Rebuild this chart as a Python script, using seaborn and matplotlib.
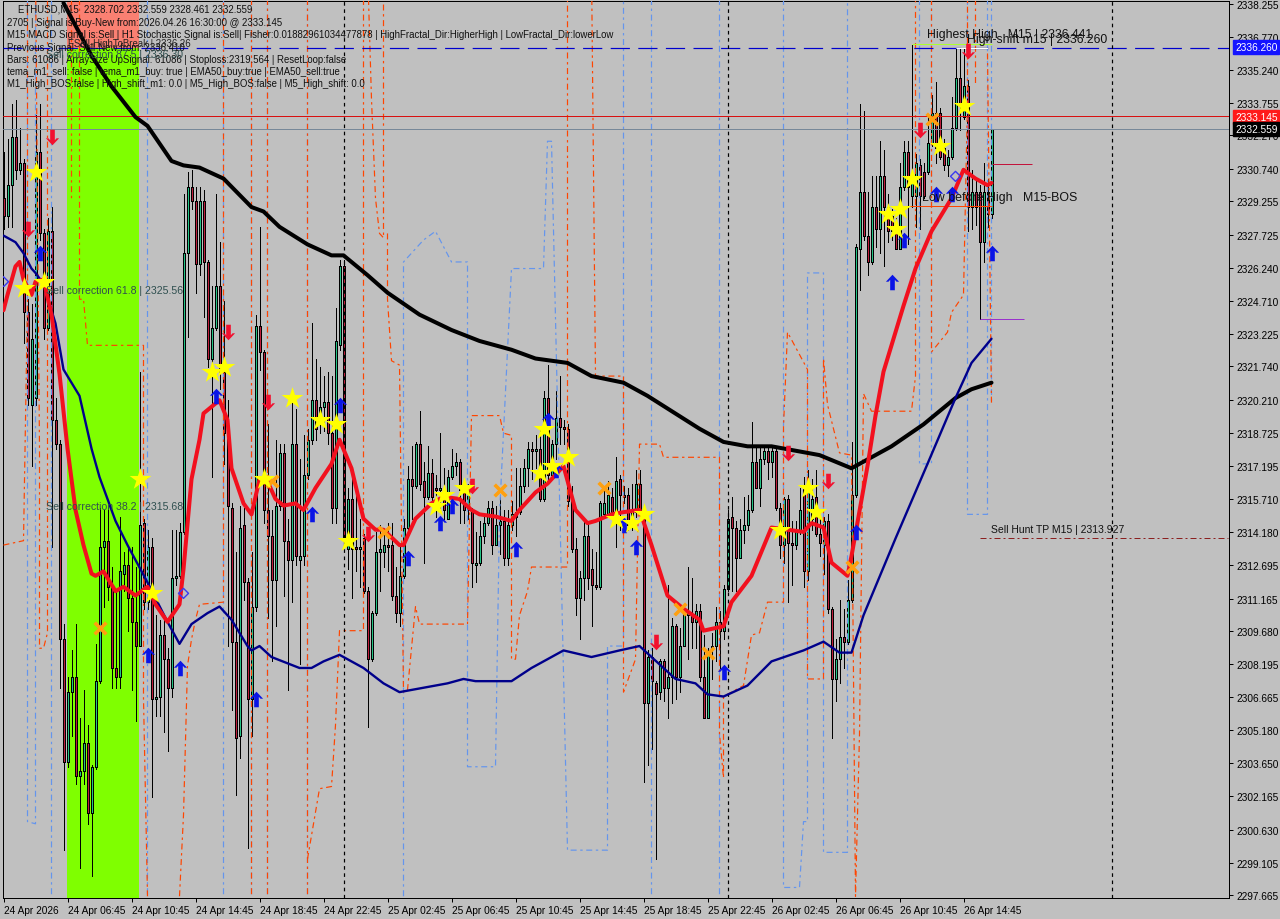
import numpy as np
import pandas as pd
import matplotlib
matplotlib.use("Agg")
import matplotlib.pyplot as plt
from matplotlib.path import Path
import seaborn as sns

BASE = 2300

# candles, price minus BASE, 15 minute bars
opens = [
    29.4,28.6,30.0,32.2,30.7,31.0,24.2,20.0,20.3,31.5, 27.8,23.5,27.9,19.3,18.2,9.3,3.7,6.9,7.6,3.1,
    3.3,4.6,1.4,3.5,7.4,13.5,13.8,11.7,8.0,7.6, 12.3,12.7,11.2,10.1,9.0,14.6,11.0,13.5,6.6,6.7,
    9.5,8.4,7.1,12.1,12.2,14.2,26.9,29.9,29.3,26.4, 29.3,26.5,22.1,23.5,25.4,21.5,18.7,15.3,9.2,4.9,
    14.5,11.9,6.6,10.8,23.6,22.4,15.2,14.0,12.0,15.4, 17.8,13.8,12.9,18.2,12.9,13.1,16.8,18.4,20.2,19.4,
    19.9,20.1,18.7,15.3,22.7,26.3,13.4,15.7,13.5,13.4, 13.9,11.5,8.4,10.5,13.3,13.3,13.6,13.6,11.3,10.5,
    12.2,14.4,16.6,16.3,18.2,16.5,15.8,16.9,16.2,16.1, 16.1,14.8,16.7,17.2,17.4,16.1,15.2,15.2,12.7,12.8,
    14.0,14.6,15.3,13.6,14.5,14.7,13.0,14.5,14.9,15.1, 16.3,17.1,18.0,17.9,18.0,15.7,20.3,16.8,18.2,19.4,
    19.0,18.9,15.6,13.4,11.2,12.1,14.0,12.5,11.8,11.7, 15.0,15.0,15.8,15.1,16.6,15.9,15.9,14.5,15.1,16.4,
    15.1,6.4,8.5,7.3,6.9,8.3,7.1,7.6,9.9,7.6, 9.0,10.4,10.4,10.1,10.6,7.6,5.7,8.9,9.0,10.1,
    9.7,11.6,14.9,14.4,13.0,14.3,14.5,15.2,17.4,16.2, 17.5,17.9,17.4,17.9,15.3,13.6,15.7,13.7,13.6,14.3,
    16.3,12.4,14.8,15.8,14.1,13.6,14.7,10.7,7.5,8.4, 9.4,9.2,11.1,15.9,27.1,29.7,27.7,26.5,29.0,28.0,
    30.4,29.0,28.6,28.1,27.1,29.9,31.5,29.5,29.5,30.9, 30.6,30.6,31.9,33.3,33.3,31.7,30.9,31.3,32.6,34.9,
    33.1,34.5,29.0,29.7,29.7,27.4,29.7,28.7,
]
closes = [
    28.6,30.0,32.2,30.7,31.0,24.2,20.3,23.0,31.5,27.8, 23.5,27.9,19.3,18.2,9.3,3.7,6.9,7.6,3.1,3.3,
    4.6,1.4,3.5,7.4,13.5,13.8,11.7,8.0,7.6,12.4, 12.7,11.2,10.1,9.0,14.5,11.0,13.5,6.6,6.7,9.5,
    8.4,7.1,12.1,12.2,14.2,26.9,29.9,29.3,26.4,29.3, 26.5,22.1,23.5,25.4,21.5,18.7,15.4,9.2,4.8,14.4,
    11.9,6.6,10.8,23.6,22.4,15.2,14.0,12.0,15.4,17.8, 13.8,12.9,18.2,13.1,13.1,16.8,18.4,20.2,18.9,19.9,
    20.1,18.7,15.3,22.9,26.3,13.8,15.7,13.4,13.4,13.5, 11.5,8.4,10.5,13.3,13.4,13.6,13.5,11.3,10.5,12.2,
    14.4,16.6,16.3,18.2,16.4,15.8,16.9,15.8,16.1,16.2, 15.2,16.7,17.2,17.4,16.1,15.2,16.2,12.8,12.8,14.0,
    14.6,15.3,13.6,14.5,14.7,13.0,14.5,15.0,15.1,16.3, 17.1,18.0,17.9,18.0,15.7,20.3,16.8,18.2,19.4,19.0,
    18.9,15.6,13.4,11.2,12.1,14.0,12.1,11.8,11.7,15.5, 15.5,15.9,15.1,16.5,15.9,15.8,14.5,15.2,16.4,15.1,
    6.4,8.5,7.4,6.8,8.3,7.1,7.6,9.9,7.6,9.0, 10.6,10.6,10.1,10.6,7.6,5.7,8.6,9.0,10.1,9.7,
    11.6,14.8,14.4,13.0,14.3,14.5,15.2,17.4,16.2,17.5, 17.9,17.4,17.9,15.3,13.6,15.7,13.7,13.6,14.3,15.2,
    12.4,16.3,15.7,14.1,13.7,14.7,10.7,7.5,8.4,9.4, 9.2,11.1,15.9,27.2,29.7,27.7,26.5,29.0,28.0,30.4,
    29.0,27.9,27.9,27.1,29.9,31.5,29.9,30.3,31.0,29.5, 29.5,31.9,33.3,31.7,31.3,30.9,31.3,32.6,34.9,33.6,
    34.5,29.0,29.7,29.0,27.4,29.7,28.7,32.559,
]
highs = [
    31.5,32.1,33.7,33.9,32.6,31.2,24.8,24.6,33.2,33.7, 28.0,28.5,29.0,20.3,18.4,10.0,7.6,8.8,10.0,5.7,
    7.0,5.4,3.6,9.1,15.3,15.2,15.3,12.6,11.5,14.9, 13.3,13.5,13.5,12.6,21.5,14.8,14.3,13.9,10.4,10.2,
    10.4,8.9,14.3,14.3,14.6,29.6,30.6,30.7,29.9,29.9, 29.8,26.6,25.4,29.6,27.4,24.7,20.2,15.5,13.3,15.4,
    15.3,12.1,13.3,24.1,28.1,22.5,19.1,15.2,18.4,18.2, 18.2,14.8,20.6,19.8,17.5,18.6,18.9,23.7,22.1,21.7,
    21.3,21.5,21.3,24.4,26.6,26.6,16.2,16.6,16.4,14.8, 14.1,11.7,10.6,14.2,14.5,14.3,14.6,14.6,12.6,13.6,
    14.8,17.2,18.1,18.3,19.7,17.4,18.1,17.5,16.8,18.7, 17.1,17.0,18.0,17.8,17.5,16.2,16.4,15.3,14.2,14.7,
    14.9,15.6,15.6,15.4,15.8,15.2,15.2,15.6,17.1,17.1, 17.5,18.3,18.3,18.6,18.9,20.6,21.8,18.4,20.6,21.3,
    19.3,19.1,16.3,13.9,12.4,14.7,14.7,13.4,13.3,15.6, 16.2,16.5,16.2,17.6,16.8,16.3,16.2,16.4,17.0,17.0,
    15.2,8.8,8.9,7.4,8.4,8.4,11.8,10.3,10.0,9.8, 10.7,12.6,12.1,10.9,10.9,9.5,8.9,9.6,10.8,10.6,
    11.8,15.2,15.8,14.7,14.8,15.8,15.9,19.2,18.1,18.1, 18.1,18.1,18.1,18.1,15.5,15.8,15.9,14.7,14.7,16.2,
    16.7,17.0,16.6,17.0,14.9,14.9,15.0,10.8,9.3,11.1, 10.7,12.0,18.3,27.3,33.7,33.4,29.7,30.4,30.4,32.0,
    31.6,29.6,28.9,28.5,31.0,32.0,32.0,36.4,31.4,31.2, 31.0,33.1,34.1,34.7,33.5,32.1,31.6,34.0,36.2,36.2,
    36.2,34.8,30.7,30.3,30.0,31.0,30.3,32.559,
]
lows = [
    28.0,28.1,28.1,30.3,30.5,22.8,20.0,17.2,20.0,27.5, 23.0,23.4,13.5,18.0,7.1,-0.3,3.5,4.9,2.7,-1.1,
    2.7,0.9,-1.5,3.4,7.3,10.8,11.1,7.1,7.1,7.1, 11.5,9.7,7.0,5.6,9.0,10.7,10.7,2.1,5.8,5.8,
    5.1,4.2,6.7,11.8,12.1,14.1,23.1,28.9,25.1,25.9, 24.0,21.7,16.7,23.4,20.7,17.3,9.0,6.1,2.2,3.9,
    11.1,-0.2,4.9,10.6,21.6,14.6,10.3,8.3,9.9,15.2, 11.3,7.0,11.0,12.7,8.2,12.7,16.6,18.2,18.4,18.7,
    18.8,18.2,14.6,14.6,22.5,13.6,12.5,11.2,12.4,11.7, 11.4,5.3,8.3,10.4,11.5,12.6,12.4,11.1,10.1,9.9,
    12.1,14.3,14.8,16.2,16.1,12.8,15.7,15.4,14.9,15.2, 14.8,14.8,16.6,16.8,14.6,14.6,14.8,11.7,11.9,12.7,
    13.7,14.5,13.2,13.6,13.2,12.7,12.7,14.3,14.0,15.0, 16.0,16.3,16.6,17.1,15.6,15.6,16.6,16.6,17.5,18.2,
    18.2,15.4,13.3,10.4,9.3,11.1,11.6,9.9,11.6,11.6, 14.9,14.9,14.8,13.5,14.3,15.5,14.3,14.3,14.9,15.0,
    2.8,3.6,4.3,-0.7,6.6,6.5,5.7,6.4,6.6,6.9, 9.0,8.4,8.9,8.9,7.4,5.7,5.7,7.5,8.3,8.0,
    9.3,11.5,11.5,11.5,13.0,13.7,14.3,15.1,16.2,15.4, 17.3,16.6,16.7,15.2,13.0,12.8,11.0,11.8,13.4,14.1,
    11.7,12.0,14.3,14.0,13.1,12.3,10.5,4.8,6.5,7.3, 8.0,9.1,11.0,15.8,25.2,27.5,25.9,26.4,27.2,26.9,
    26.3,27.4,27.5,27.1,27.1,29.8,27.3,29.0,28.1,28.0, 29.4,30.5,31.8,31.0,31.2,30.7,30.4,31.2,32.5,32.5,
    33.0,27.9,28.0,28.2,23.9,26.5,28.1,28.5,
]

# moving averages
red_bars = [0,1,3,4,5,7,8,10,12,14,16,18,20,22,23,25,28,30,33,36,38,41,44,45,47,49,50,54,56,57,60,62,64,66,68,70,73,75,78,82,84,87,90,93,95,99,100,103,107,110,114,117,119,123,127,129,133,136,140,143,146,148,152,155,159,162,166,170,174,175,180,182,187,192,200,202,205,207,211,212,216,218,220,225,228,232,237,240,243,246,247]
red_vals = [24.3,25.0,26.3,26.5,25.7,25.0,25.6,25.7,24.1,21.4,18.0,15.2,13.6,12.3,12.2,12.4,11.5,11.7,11.3,11.7,10.9,10.1,10.9,12.5,16.6,18.4,19.6,20.2,19.3,17.1,15.5,15.0,16.6,16.5,15.7,15.4,15.5,15.2,16.2,17.3,18.4,17.1,14.8,14.3,14.3,13.6,13.6,14.8,15.5,15.8,15.7,15.2,15.0,14.9,14.7,15.2,16.0,16.4,17.2,15.2,14.6,14.7,15.0,15.1,15.2,13.6,11.3,10.7,10.2,9.7,9.9,11.0,12.2,14.4,14.2,14.6,14.4,12.8,12.2,13.1,17.2,19.5,21.5,24.5,26.2,27.9,29.4,30.7,30.3,30.0,30.1]
navy_bars = [0,3,5,7,8,10,13,15,19,22,24,28,31,36,41,44,47,51,54,57,61,62,64,67,74,77,80,84,90,95,99,105,111,115,118,127,132,140,147,154,159,168,173,176,180,186,192,200,205,209,212,215,223,231,238,242,247]
navy_vals = [27.7,27.4,26.9,26.2,26.0,25.5,23.7,21.6,20.4,18.0,16.7,14.7,13.6,11.9,10.1,9.1,10.0,10.5,10.8,10.2,9.0,8.8,9.0,8.5,8.0,8.0,8.3,8.6,8.0,7.3,6.9,7.1,7.3,7.5,7.4,7.4,8.0,8.8,8.5,8.8,9.0,7.5,7.3,6.8,6.7,7.2,8.3,8.8,9.2,8.7,8.7,10.4,13.9,17.3,20.3,21.9,23.0]
black_bars = [15,22,27,33,36,42,45,49,55,62,65,69,76,82,85,91,96,104,112,119,127,133,141,147,155,161,174,180,186,192,204,212,222,230,238,242,247]
black_vals = [38.3,35.9,34.5,33.1,32.7,31.1,30.9,30.8,30.3,29.0,28.8,28.1,27.3,26.8,26.8,25.9,25.1,24.1,23.4,22.9,22.5,22.1,21.9,21.3,21.0,20.4,18.9,18.3,18.1,18.1,17.7,17.1,18.1,19.1,20.3,20.7,21.0]

# dash-dot channel lines, nan marks a break
nan = float("nan")
orange_bars = [0,5,6,6,nan, 8,9,9,10,11,11,nan, 17,17,nan, 19,19,20,21,35,35,36,nan, 44,45,46,47,48,49,55,55,nan,
               62,62,nan, 66,66,nan, 76,76,nan, 76,79,82,83,84,90,90,nan, 91,92,93,94,95,95,nan,
               96,96,97,99,100,101,103,104,116,117,124,125,127,127,128,129,131,132,141,141,nan,
               147,148,155,155,158,159,164,165,179,179,180,180,185,187,189,191,195,195,196,201,201,205,205,206,209,212,213,214,215,217,227,228,228,nan,
               232,232,236,237,240,241,241,nan, 243,243,nan, 246,247]
orange_vals = [13.6,13.8,24.8,40,nan, 40,18.0,8.9,8.9,9.6,40,nan, 40,29.4,nan, 40,24.8,24.8,22.7,22.7,6.6,-2.4,nan, -2.4,1.3,8.1,9.3,10.2,10.9,11.0,40,nan,
               40,-2.4,nan, 40,-2.4,nan, 40,-2.4,nan, -0.7,2.5,2.6,5.4,9.7,9.7,40,nan, 40,33.9,29.4,27.8,27.6,40,nan,
               27.8,24.8,22.0,21.8,6.9,7.0,10.8,10.0,10.0,19.5,19.5,18.7,18.6,8.4,8.4,10.4,11.5,12.6,12.6,40,nan,
               40,21.3,21.3,6.9,8.4,18.2,18.2,17.6,17.6,5.0,3.0,6.7,7.2,9.5,9.6,11.0,11.0,19.0,23.3,21.6,7.5,7.5,22.1,20.0,17.8,17.7,-2.4,5.0,20.5,19.7,19.7,21.3,40,nan,
               40,22.4,23.3,24.2,25.0,33.9,40,nan, 40,34.5,nan, 36.0,20.0]
blue_bars = [6,6,8,8,nan, 12,12,nan, 36,36,nan, 55,55,nan, 62,62,nan, 66,66,nan, 76,76,nan,
             100,100,105,108,112,116,116,123,124,127,135,136,137,141,151,151,155,155,nan,
             162,162,nan, 179,179,nan, 195,195,199,200,201,201,205,205,211,211,nan,
             229,229,232,232,nan, 241,241,246,246,nan, 247,247]
blue_vals = [40,1.0,0.9,40,nan, 40,-2.4,nan, 40,-2.4,nan, 40,-2.4,nan, 40,-2.4,nan, 40,-2.4,nan, 40,-2.4,nan,
             -2.4,26.5,27.5,27.9,26.5,26.5,3.5,3.5,15.0,26.2,26.2,32.0,32.0,-0.3,-0.3,9.0,9.0,40,nan,
             40,-2.4,nan, 40,-2.4,nan, 40,-2.0,-2.0,1.0,1.0,26.0,26.0,-0.4,-0.4,40,nan,
             40,17.3,17.3,40,nan, 40,15.0,15.0,40,nan, 40,20.0]

# signal markers
star_bars = [8,5,10,34,37,52,55,65,72,79,83,86,108,110,115,135,134,137,141,153,157,160,194,201,203,221,224,223,227,234,240]
star_vals = [30.6,25.3,25.6,16.6,11.4,21.5,21.7,16.6,20.3,19.3,19.1,13.8,15.4,15.9,16.2,18.9,16.9,17.2,17.6,14.8,14.6,15.0,14.3,16.2,15.1,28.7,28.9,28.0,30.3,31.8,33.6]
cross_bars = [24,67,95,124,150,169,176,212,232]
cross_vals = [9.8,16.5,14.2,16.1,16.2,10.7,8.7,12.6,33.0]
down_bars = [12,6,56,66,91,117,163,196,206,229,241]
down_vals = [32.2,28.0,23.3,20.1,14.1,16.3,9.2,17.8,16.5,32.5,36.1]
up_bars = [9,36,44,53,63,77,84,101,109,112,128,136,138,155,158,180,213,222,225,233,237,247]
up_vals = [26.9,8.6,8.0,20.4,6.6,15.0,20.0,13.0,14.6,15.4,13.4,19.3,17.0,14.5,13.5,7.8,14.2,25.6,27.5,29.6,29.6,26.9]
hollow_bars = [0,45,238]
hollow_vals = [25.6,11.4,30.4]

# axis labels
y_ticks = [2338.255,2336.770,2335.240,2333.755,2332.270,2330.740,2329.255,2327.725,2326.240,2324.710,2323.225,2321.740,2320.210,2318.725,2317.195,2315.710,2314.180,2312.695,2311.165,2309.680,2308.195,2306.665,2305.180,2303.650,2302.165,2300.630,2299.105,2297.665]
x_labels = ["24 Apr 2026","24 Apr 06:45","24 Apr 10:45","24 Apr 14:45","24 Apr 18:45","24 Apr 22:45","25 Apr 02:45","25 Apr 06:45","25 Apr 10:45","25 Apr 14:45","25 Apr 18:45","25 Apr 22:45","26 Apr 02:45","26 Apr 06:45","26 Apr 10:45","26 Apr 14:45"]
x_ticks = list(range(0, 256, 16))

W, H = 1280, 920
GREY = "#c0c0c0"
FONT = "Liberation Sans"
PX = 0.72  # one pixel in points

sns.set_theme(style="white", rc={"axes.facecolor": GREY, "figure.facecolor": GREY})
plt.rcParams["font.family"] = [FONT, "DejaVu Sans"]

candles = pd.DataFrame({"open": opens, "high": highs, "low": lows, "close": closes}) + BASE
candles["bar"] = np.arange(len(candles))
up = candles["close"] >= candles["open"]


def pr(values):
    return [v + BASE for v in values]


fig = plt.figure(figsize=(W / 100, H / 100), dpi=100)
ax = fig.add_axes([3 / W, (H - 899) / H, 1226 / W, 897 / H])

# session highlight
ax.axvspan(15.9, 33.9, color="#7fff00", lw=0, zorder=0)
ax.axvspan(15.9, 33.9, ymin=(2336.26 - 2297.52) / (2338.39 - 2297.52), color="#fa8072", lw=0, zorder=0.1)

# candles
ax.vlines(candles["bar"], candles["low"], candles["high"], color="black", lw=PX, zorder=2, antialiased=False)
body_low = candles[["open", "close"]].min(axis=1)
body_high = candles[["open", "close"]].max(axis=1)
body_colors = np.where(up, "#24c486", "#bd1e3c")
ax.bar(candles["bar"], body_high - body_low, bottom=body_low, width=0.5, color=body_colors,
       edgecolor="black", linewidth=PX, zorder=2.5, antialiased=False)

# channels
dash = (0, (5, 3, 2, 3))
ax.plot(blue_bars, np.array(blue_vals) + BASE, color="#6495ed", lw=PX * 1.2, ls=dash, zorder=3)
ax.plot(orange_bars, np.array(orange_vals) + BASE, color="#ff4500", lw=PX * 1.2, ls=dash, zorder=3.1)

# levels
ax.axhline(2336.260, color="#0000cd", lw=PX * 1.2, ls=(0, (16, 7)), zorder=3.2)
ax.axhline(2333.145, color="#d81010", lw=PX, zorder=3.2)
ax.axhline(2332.559, color="#778899", lw=PX, zorder=3.2)
for day_bar in [85, 181, 277]:
    ax.axvline(day_bar, color="black", lw=PX * 1.2, ls=(0, (3, 3)), zorder=3.2)
ax.hlines(2336.441, 227, 247, color="#adff2f", lw=PX, zorder=3.3)
ax.hlines(2336.260, 238, 246, color="white", lw=PX, zorder=3.3)
ax.hlines(2329.05, 226, 247, color="#ff4500", lw=PX, zorder=3.3)
ax.hlines(2330.96, 247, 257, color="#c2143c", lw=PX, zorder=3.3)
ax.hlines(2323.9, 244, 255, color="#9932cc", lw=PX, zorder=3.3)
ax.hlines(2313.927, 244, 306, color="#8b2020", lw=PX, ls=(0, (6, 3, 2, 3)), zorder=3.3)

# moving averages
sns.lineplot(x=black_bars, y=pr(black_vals), color="black", lw=2.9, ax=ax, zorder=4, sort=False, errorbar=None)
sns.lineplot(x=navy_bars, y=pr(navy_vals), color="#00008b", lw=1.7, ax=ax, zorder=4.1, sort=False, errorbar=None)
sns.lineplot(x=red_bars, y=pr(red_vals), color="#f2101e", lw=2.9, ax=ax, zorder=4.2, sort=False, errorbar=None)

# markers
arrow_up = Path([(0, 1), (0.85, 0.1), (0.52, 0.1), (0.3, 0.35), (0.3, -1), (-0.3, -1),
                 (-0.3, 0.35), (-0.52, 0.1), (-0.85, 0.1), (0, 1)], closed=True)
arrow_down = Path([(0, -1), (0.85, -0.1), (0.52, -0.1), (0.3, -0.35), (0.3, 1), (-0.3, 1),
                   (-0.3, -0.35), (-0.52, -0.1), (-0.85, -0.1), (0, -1)], closed=True)
sns.scatterplot(x=up_bars, y=pr(up_vals), marker=arrow_up, s=125, color="#0a14e6", linewidth=0, ax=ax, zorder=5)
sns.scatterplot(x=down_bars, y=pr(down_vals), marker=arrow_down, s=125, color="#f2102e", linewidth=0, ax=ax, zorder=5)
sns.scatterplot(x=cross_bars, y=pr(cross_vals), marker="x", s=70, color="#ffa010", linewidth=2.6, ax=ax, zorder=5.1)
sns.scatterplot(x=star_bars, y=pr(star_vals), marker="*", s=270, color="#ffff00", linewidth=0, ax=ax, zorder=5.2)
ax.scatter(hollow_bars, pr(hollow_vals), marker="D", s=26, facecolors="none", edgecolors="#3a3af0", linewidths=1, zorder=5.2)

ax.set_xlim(-0.125, 306.375)
ax.set_ylim(2297.52, 2338.39)
ax.yaxis.tick_right()
ax.set_yticks(y_ticks)
ax.set_yticklabels([f"{v:.3f}" for v in y_ticks], fontsize=7.3, color="black")
ax.set_xticks(x_ticks)
ax.set_xticklabels(x_labels, fontsize=7.3, color="black", ha="left")
ax.tick_params(axis="both", length=3, width=PX, color="black", pad=2, bottom=True, right=True)
for spine in ax.spines.values():
    spine.set_color("black")
    spine.set_linewidth(PX)
ax.grid(False)
ax.set_xlabel("")
ax.set_ylabel("")


def label(x, y, s, size=6.9, color="#111111", **kw):
    fig.text(x / W, 1 - y / H, s, fontsize=size, color=color, va="center", ha="left", zorder=10, **kw)


# chart comment block
label(18, 10, "ETHUSD,M15  2328.702 2332.559 2328.461 2332.559")
label(7, 23, "2705 | Signal is:Buy-New from:2026.04.26 16:30:00 @ 2333.145")
label(7, 35, "M15 MACD Signal is:Sell | H1 Stochastic Signal is:Sell| Fisher:0.01882961034477878 | HighFractal_Dir:HigherHigh | LowFractal_Dir:lowerLow")
label(7, 48, "Previous Signal: Sell-New from: 2336.410")
label(7, 60, "Bars: 61086 | ArraySize UpSignal: 61086 | Stoploss:2319.564 | ResetLoop:false")
label(7, 72, "tema_m1_sell: false | tema_m1_buy: true | EMA50_buy:true | EMA50_sell:true")
label(7, 84, "M1_High_BOS:false | High_shift_m1: 0.0 | M5_High_BOS:false | M5_High_shift: 0.0")
label(68, 44, "FSell-HighToBreak | 2336.26", color="#222222")

# object labels
slate = "#2f4f4f"
label(46, 55, "Sell correction 87.5 | 2336.30", size=7.6, color=slate)
label(46, 291, "Sell correction 61.8 | 2325.56", size=7.6, color=slate)
label(46, 507, "Sell correction 38.2 | 2315.68", size=7.6, color=slate)
label(927, 35, "Highest High   M15 | 2336.441", size=8.8)
label(967, 40, "High-shift m15 | 2336.260", size=8.8)
label(922, 198, "Low before High   M15-BOS", size=8.9)
label(991, 530, "Sell Hunt TP M15 | 2313.927", size=7.5)

# price tags
for y_px, txt, bg in [(48, "2336.260", "#1414ff"), (118, "2333.145", "#ff1a1a"), (130, "2332.559", "black")]:
    fig.text(1235 / W, 1 - y_px / H, txt, fontsize=7.3, color="white", va="center", ha="left", zorder=11,
             bbox=dict(facecolor=bg, edgecolor=bg, pad=1.4))

fig.savefig("out.png", dpi=100, facecolor=GREY)
